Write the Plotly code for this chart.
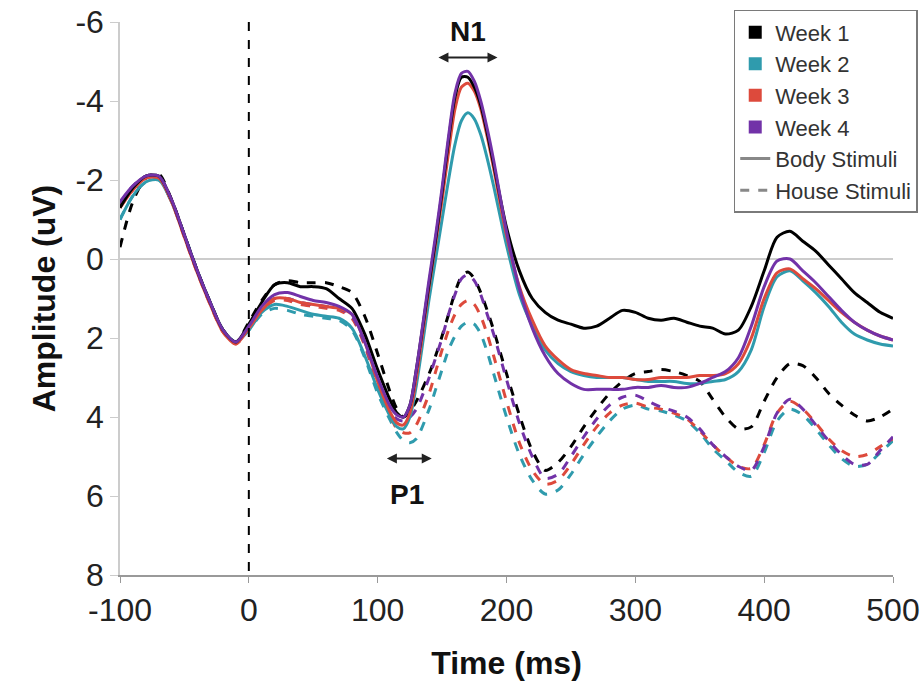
import plotly.graph_objects as go

# Time points (ms)
time_ms = [-100, -90, -80, -70, -60, -50, -40, -30, -20, -10,
           0, 10, 20, 30, 40, 50, 60, 70, 80, 90,
           100, 110, 115, 120, 125, 130, 140, 145, 150, 155,
           160, 165, 170, 175, 180, 185, 190, 200, 210, 220,
           230, 240, 250, 260, 270, 280, 290, 300, 310, 320,
           330, 340, 350, 360, 370, 380, 390, 400, 410, 420,
           430, 440, 450, 460, 470, 480, 490, 500]

# Body stimuli (solid)
body_w1 = [-1.3, -1.8, -2.1, -2.1, -1.5, -0.6, 0.3, 1.1, 1.8, 2.1,
           1.65, 1.1, 0.65, 0.6, 0.7, 0.7, 0.75, 1.0, 1.25, 1.9,
           2.8, 3.6, 3.9, 4.0, 3.7, 2.8, 0.6, -0.5, -1.7, -3.0,
           -4.1, -4.6, -4.6, -4.35, -3.9, -3.2, -2.4, -0.8, 0.3, 1.0,
           1.35, 1.55, 1.65, 1.75, 1.7, 1.5, 1.3, 1.35, 1.5, 1.55,
           1.5, 1.6, 1.7, 1.75, 1.9, 1.8, 1.2, 0.3, -0.55, -0.7,
           -0.45, -0.2, 0.15, 0.5, 0.85, 1.1, 1.35, 1.5]
body_w2 = [-1.0, -1.6, -1.95, -2.0, -1.45, -0.6, 0.3, 1.1, 1.8, 2.1,
           1.8, 1.35, 1.15, 1.2, 1.3, 1.4, 1.45, 1.5, 1.75, 2.45,
           3.3, 4.0, 4.25, 4.3, 4.0, 3.2, 1.0, 0.0, -1.0, -2.0,
           -2.9, -3.5, -3.7, -3.55, -3.15, -2.55, -1.85, -0.35, 0.9, 1.7,
           2.3, 2.65, 2.85, 2.95, 3.0, 3.0, 3.0, 3.05, 3.1, 3.1,
           3.1, 3.15, 3.15, 3.1, 3.05, 2.85, 2.3, 1.2, 0.45, 0.3,
           0.55, 0.85, 1.2, 1.6, 1.9, 2.05, 2.15, 2.2]
body_w3 = [-1.3, -1.75, -2.05, -2.05, -1.45, -0.55, 0.35, 1.15, 1.85, 2.15,
           1.75, 1.3, 1.0, 1.0, 1.1, 1.15, 1.2, 1.25, 1.4, 2.1,
           3.1, 3.9, 4.15, 4.2, 3.9, 3.0, 0.7, -0.4, -1.5, -2.7,
           -3.8, -4.35, -4.45, -4.25, -3.8, -3.1, -2.3, -0.6, 0.7, 1.55,
           2.2, 2.55, 2.8, 2.9, 2.95, 3.0, 3.0, 3.05, 3.05, 3.0,
           3.0, 3.0, 2.95, 2.95, 2.9, 2.65, 2.0, 1.0, 0.35, 0.25,
           0.5, 0.75, 1.05, 1.35, 1.6, 1.8, 1.95, 2.05]
body_w4 = [-1.45, -1.85, -2.1, -2.1, -1.5, -0.6, 0.3, 1.1, 1.8, 2.1,
           1.7, 1.2, 0.9, 0.85, 0.95, 1.05, 1.1, 1.2, 1.4, 2.1,
           3.0, 3.75, 3.95, 4.0, 3.7, 2.8, 0.5, -0.6, -1.8, -3.1,
           -4.2, -4.7, -4.75, -4.5, -4.0, -3.3, -2.5, -0.7, 0.75, 1.75,
           2.45, 2.9, 3.15, 3.3, 3.3, 3.3, 3.3, 3.25, 3.25, 3.2,
           3.25, 3.25, 3.15, 3.0, 2.85, 2.5, 1.7, 0.7, 0.05, 0.0,
           0.3, 0.6, 0.95, 1.3, 1.6, 1.8, 1.95, 2.05]

# House stimuli (dashed)
house_w1 = [-0.3, -1.45, -2.05, -2.15, -1.5, -0.6, 0.3, 1.1, 1.8, 2.1,
            1.6, 1.05, 0.65, 0.55, 0.6, 0.6, 0.6, 0.7, 0.85, 1.45,
            2.4, 3.4, 3.8, 4.0, 3.85, 3.6, 2.9, 2.45, 1.95, 1.4,
            0.85, 0.45, 0.33, 0.5, 0.85, 1.3, 1.8, 2.9, 3.95, 4.85,
            5.35, 5.15, 4.75, 4.25, 3.8, 3.4, 3.1, 2.9, 2.85, 2.8,
            2.85, 2.95, 3.1, 3.55, 4.0, 4.3, 4.25, 3.6, 3.0, 2.65,
            2.7, 3.0, 3.4, 3.7, 3.95, 4.1, 4.0, 3.8]
house_w2 = [-1.0, -1.6, -1.95, -2.0, -1.45, -0.6, 0.3, 1.1, 1.8, 2.1,
            1.8, 1.4, 1.25, 1.3, 1.4, 1.45, 1.5, 1.55, 1.8, 2.5,
            3.4, 4.1, 4.4, 4.6, 4.65, 4.55, 3.8, 3.3, 2.8, 2.3,
            1.95, 1.7, 1.6, 1.65, 1.9, 2.35, 2.9, 4.0, 4.95, 5.6,
            5.95, 5.85, 5.45, 4.95, 4.5, 4.1, 3.8, 3.7, 3.8, 3.85,
            3.95, 4.1, 4.4, 4.8, 5.1, 5.4, 5.5, 4.9, 4.1, 3.8,
            3.95, 4.3, 4.7, 5.05, 5.25, 5.2, 4.9, 4.6]
house_w3 = [-1.3, -1.75, -2.05, -2.05, -1.45, -0.55, 0.35, 1.15, 1.85, 2.15,
            1.75, 1.3, 1.05, 1.05, 1.15, 1.2, 1.25, 1.3, 1.5, 2.2,
            3.2, 4.0, 4.3, 4.4, 4.4, 4.2, 3.4, 2.85, 2.3, 1.8,
            1.4, 1.15, 1.05, 1.15, 1.45, 1.9, 2.45, 3.6, 4.65, 5.35,
            5.7, 5.6, 5.2, 4.7, 4.25, 3.9, 3.7, 3.65, 3.75, 3.8,
            3.9, 4.05, 4.35, 4.7, 5.0, 5.25, 5.3, 4.7, 3.9, 3.6,
            3.8, 4.15, 4.55, 4.85, 5.0, 4.95, 4.75, 4.55]
house_w4 = [-1.4, -1.85, -2.1, -2.1, -1.5, -0.6, 0.3, 1.1, 1.8, 2.1,
            1.7, 1.25, 1.0, 1.0, 1.1, 1.15, 1.2, 1.25, 1.45, 2.15,
            3.1, 3.85, 4.05, 4.1, 4.0, 3.8, 3.0, 2.5, 2.0, 1.4,
            0.9, 0.5, 0.4, 0.55, 0.9, 1.4, 1.9, 3.05, 4.15, 5.0,
            5.55, 5.45, 5.0, 4.5, 4.05, 3.7, 3.5, 3.45, 3.6, 3.75,
            3.85, 4.0, 4.3, 4.7, 5.0, 5.25, 5.35, 4.75, 3.9, 3.55,
            3.8, 4.2, 4.6, 4.95, 5.2, 5.2, 4.85, 4.5]

week_names = ["Week 1", "Week 2", "Week 3", "Week 4"]
week_colors = ["#000000", "#2f9bad", "#dd4a3c", "#7232a8"]
x_ticks = [-100, 0, 100, 200, 300, 400, 500]
x_ticktext = ["-100", "0", "100", "200", "300", "400", "500"]
y_ticks = [-6, -4, -2, 0, 2, 4, 6, 8]
y_ticktext = ["-6", "-4", "-2", "0", "2", "4", "6", "8"]

fig = go.Figure()

body = [body_w1, body_w2, body_w3, body_w4]
house = [house_w1, house_w2, house_w3, house_w4]
draw_order = [1, 2, 0, 3]

for i in draw_order:
    fig.add_trace(go.Scatter(x=time_ms, y=house[i], mode="lines",
                             line=dict(color=week_colors[i], width=3, dash="dash", shape="spline", smoothing=0.8),
                             showlegend=False, hoverinfo="skip"))
for i in draw_order:
    fig.add_trace(go.Scatter(x=time_ms, y=body[i], mode="lines",
                             line=dict(color=week_colors[i], width=3, shape="spline", smoothing=0.8),
                             showlegend=False, hoverinfo="skip"))

# legend entries
for name, col in zip(week_names, week_colors):
    fig.add_trace(go.Scatter(x=[None], y=[None], mode="markers", name=name,
                             marker=dict(symbol="square", size=13, color=col)))
fig.add_trace(go.Scatter(x=[None], y=[None], mode="lines", name="Body Stimuli",
                         line=dict(color="#888888", width=3)))
fig.add_trace(go.Scatter(x=[None], y=[None], mode="lines", name="House Stimuli",
                         line=dict(color="#888888", width=3, dash="dash")))

# stimulus onset
fig.add_shape(type="line", x0=0, x1=0, y0=-6, y1=8, xref="x", yref="y",
              line=dict(color="black", width=2, dash="dash"))

# N1 / P1 annotations
fig.add_annotation(x=193, y=-5.1, ax=146, ay=-5.1, xref="x", yref="y", axref="x", ayref="y",
                   text="", showarrow=True, arrowhead=2, arrowside="end+start",
                   arrowsize=1, arrowwidth=2, arrowcolor="#222222")
fig.add_annotation(x=170, y=-5.75, xref="x", yref="y", text="<b>N1</b>", showarrow=False,
                   font=dict(size=28, color="#111111"))
fig.add_annotation(x=142, y=5.05, ax=106, ay=5.05, xref="x", yref="y", axref="x", ayref="y",
                   text="", showarrow=True, arrowhead=2, arrowside="end+start",
                   arrowsize=1, arrowwidth=2, arrowcolor="#222222")
fig.add_annotation(x=123, y=5.95, xref="x", yref="y", text="<b>P1</b>", showarrow=False,
                   font=dict(size=28, color="#111111"))

fig.update_layout(
    width=920, height=700,
    margin=dict(l=120, r=27, t=22, b=125, autoexpand=False),
    paper_bgcolor="white", plot_bgcolor="white",
    font=dict(family="Liberation Sans, Arial, sans-serif", color="#222222"),
    legend=dict(x=1.032, xanchor="right", y=1.022, yanchor="top",
                bgcolor="white", bordercolor="#7a7a7a", borderwidth=1.5,
                font=dict(size=22, color="#333333"), tracegroupgap=0,
                itemwidth=30),
    xaxis=dict(range=[-100, 500], tickvals=x_ticks, ticktext=x_ticktext, showgrid=False, zeroline=False,
               showline=True, linecolor="#999999", linewidth=1.5,
               ticks="outside", tickcolor="#999999", ticklen=6,
               tickfont=dict(size=32, color="#222222"),
               title=dict(text="<b>Time (ms)</b>", font=dict(size=32, color="#111111"), standoff=24)),
    yaxis=dict(range=[8, -6], tickvals=y_ticks, ticktext=y_ticktext, showgrid=False,
               zeroline=True, zerolinecolor="#cccccc", zerolinewidth=2,
               showline=True, linecolor="#cccccc", linewidth=1.5,
               ticks="outside", tickcolor="#cccccc", ticklen=8,
               tickfont=dict(size=32, color="#222222"),
               title=dict(text="<b>Amplitude (uV)</b>", font=dict(size=32, color="#111111"), standoff=10)),
)

fig.write_html("out.html")
